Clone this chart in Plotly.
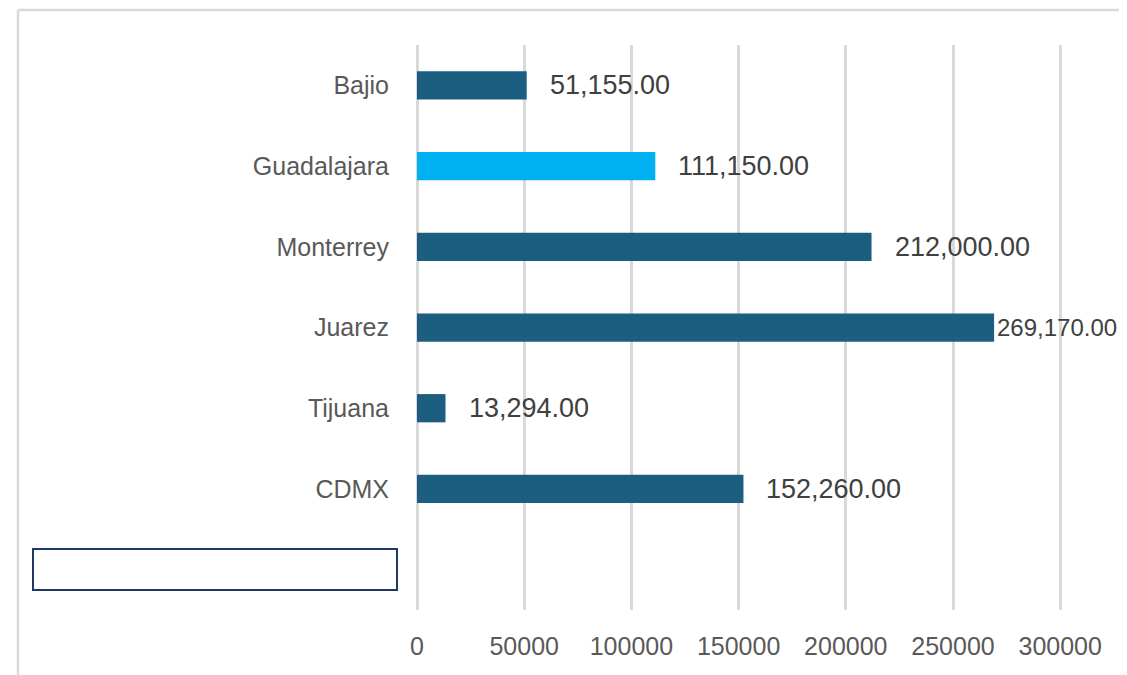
import plotly.graph_objects as go

categories = ["Bajio", "Guadalajara", "Monterrey", "Juarez", "Tijuana", "CDMX", " "]
values = [51155, 111150, 212000, 269170, 13294, 152260, None]
bar_colors = ["#1B5E80", "#00B0F0", "#1B5E80", "#1B5E80", "#1B5E80", "#1B5E80", "#1B5E80"]
label_shift = [21, 21, 21, 1, 21, 21, 0]
label_size = [27, 27, 27, 24, 27, 27, 27]
x_ticks = [0, 50000, 100000, 150000, 200000, 250000, 300000]

OFF = 8  # page offset of the plot in the browser
W, H = 1127 - OFF, 675 - OFF
PT, PB = 45, 610  # plot area top / bottom in page pixels
L, T = 417 - OFF, PT - OFF
B = 675 - PB
R = 0
pw, ph = W - L - R, H - T - B

def px(x):
    return (x - OFF - L) / pw

def py(y):
    return (PB - y) / ph

fig = go.Figure()
fig.add_trace(go.Bar(
    y=categories, x=values, orientation="h",
    marker=dict(color=bar_colors, line=dict(width=0)),
    width=0.35, hoverinfo="skip",
))

for c, v, s, fs in zip(categories, values, label_shift, label_size):
    if v is None:
        continue
    fig.add_annotation(
        x=v, y=c, xref="x", yref="y", text=f"{v:,.2f}",
        showarrow=False, xanchor="left", yanchor="middle", xshift=s,
        font=dict(family="Liberation Sans", size=fs, color="#404040"),
    )

shapes = [
    dict(type="line", xref="paper", yref="paper", x0=px(18), x1=px(1140), y0=py(10), y1=py(10),
         line=dict(color="#D9D9D9", width=2.5)),
    dict(type="line", xref="paper", yref="paper", x0=px(18), x1=px(18), y0=py(10), y1=py(690),
         line=dict(color="#D9D9D9", width=2.5)),
    dict(type="rect", xref="paper", yref="paper", x0=px(33), x1=px(397), y0=py(590), y1=py(549),
         line=dict(color="#1F3864", width=2), fillcolor="white"),
]

fig.update_layout(
    width=W, height=H,
    margin=dict(l=L, r=R, t=T, b=B, pad=0),
    paper_bgcolor="white", plot_bgcolor="white",
    showlegend=False,
    shapes=shapes,
    font=dict(family="Liberation Sans", size=25, color="#595959"),
    xaxis=dict(
        range=[0, (1127 - 417) / 107.2 * 50000],
        tickvals=x_ticks, ticktext=[str(t) for t in x_ticks],
        showgrid=True, gridcolor="#D9D9D9", gridwidth=2.5,
        zeroline=True, zerolinecolor="#D9D9D9", zerolinewidth=2.5,
        showline=False, ticks="", ticklabelstandoff=19,
        tickfont=dict(size=25, color="#595959"),
    ),
    yaxis=dict(
        categoryorder="array", categoryarray=categories, autorange="reversed",
        showgrid=False, zeroline=False, showline=False, ticks="",
        ticklabelstandoff=27,
        tickfont=dict(size=25, color="#595959"),
    ),
)

fig.write_html("out.html")
